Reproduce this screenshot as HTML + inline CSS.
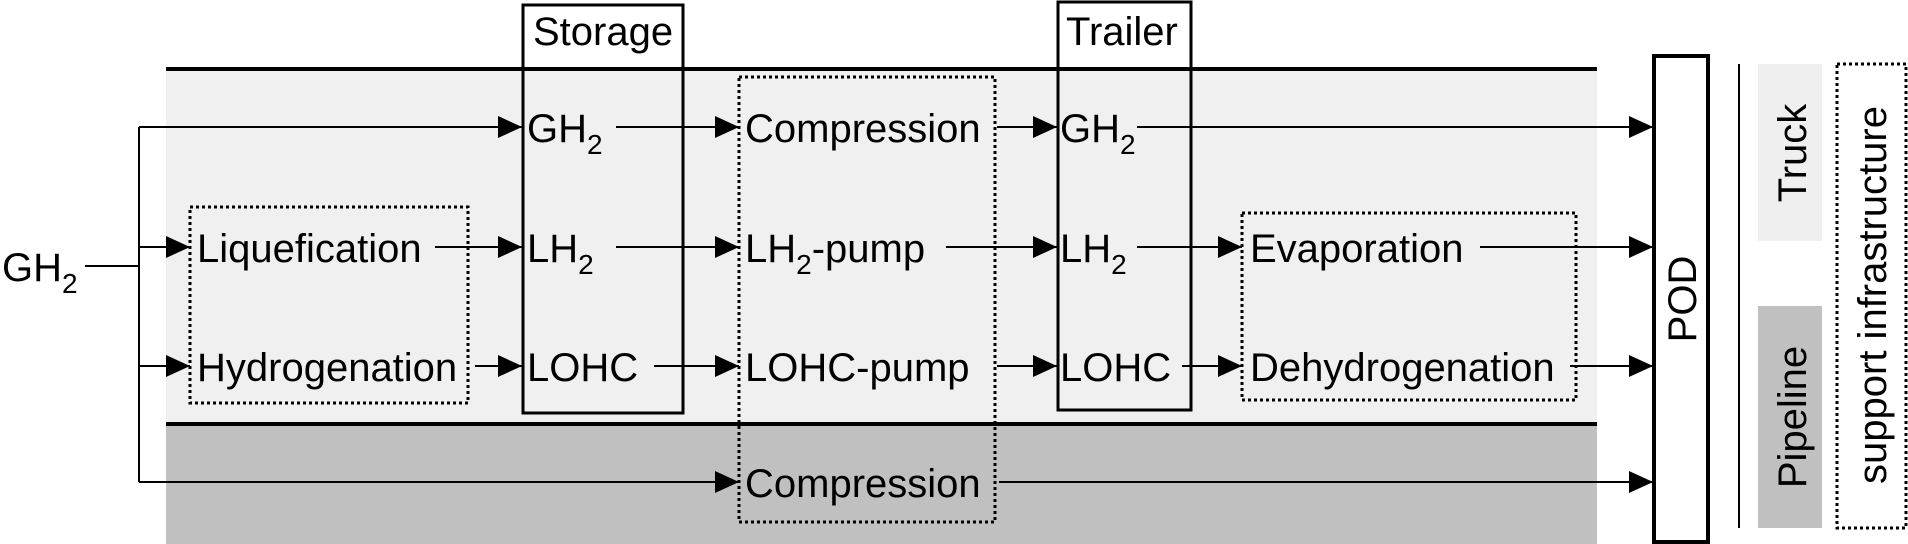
<!DOCTYPE html>
<html><head><meta charset="utf-8"><style>
html,body{margin:0;padding:0;background:#fff;}
svg{display:block;}
text{font-family:"Liberation Sans",Arial,sans-serif;font-size:40px;fill:#000;}
.s{font-size:28px;}
</style></head><body>
<svg width="1908" height="544" viewBox="0 0 1908 544" xmlns="http://www.w3.org/2000/svg">
<defs>
<marker id="a" markerWidth="24" markerHeight="22" refX="24" refY="11" orient="auto" markerUnits="userSpaceOnUse">
<polygon points="0,0 24,11 0,22" fill="#000"/></marker>
</defs>
<!-- bands -->
<rect x="166" y="69" width="1431" height="355" fill="#f0f0f0"/>
<rect x="166" y="424" width="1431" height="120" fill="#c0c0c0"/>
<line x1="166" y1="69" x2="1597" y2="69" stroke="#000" stroke-width="4"/>
<line x1="166" y1="424" x2="1597" y2="424" stroke="#000" stroke-width="4"/>

<!-- boxes -->
<rect x="523" y="5" width="160" height="408" fill="none" stroke="#000" stroke-width="3"/>
<rect x="1058" y="2" width="133" height="408" fill="none" stroke="#000" stroke-width="3"/>
<rect x="190" y="207" width="278" height="196" fill="none" stroke="#000" stroke-width="3" stroke-dasharray="3,3"/>
<rect x="739" y="77" width="256" height="445" fill="none" stroke="#000" stroke-width="3" stroke-dasharray="3,3"/>
<rect x="1242" y="213" width="334" height="187" fill="none" stroke="#000" stroke-width="3" stroke-dasharray="3,3"/>
<rect x="1654" y="56" width="54" height="486" fill="#fff" stroke="#000" stroke-width="4"/>
<line x1="1739" y1="64" x2="1739" y2="528" stroke="#000" stroke-width="2"/>
<rect x="1758" y="64" width="64" height="177" fill="#efefef"/>
<rect x="1758" y="306" width="64" height="222" fill="#c0c0c0"/>
<rect x="1837" y="64" width="69" height="464" fill="none" stroke="#000" stroke-width="3" stroke-dasharray="3,3"/>

<!-- connectors -->
<g stroke="#000" stroke-width="2" fill="none">
<line x1="85" y1="266" x2="139" y2="266"/>
<line x1="139" y1="127" x2="139" y2="482"/>
<line x1="139" y1="127" x2="522" y2="127" marker-end="url(#a)"/>
<line x1="139" y1="247" x2="190" y2="247" marker-end="url(#a)"/>
<line x1="139" y1="366" x2="190" y2="366" marker-end="url(#a)"/>
<line x1="139" y1="482" x2="739" y2="482" marker-end="url(#a)"/>
<line x1="435" y1="247" x2="522" y2="247" marker-end="url(#a)"/>
<line x1="475" y1="366" x2="522" y2="366" marker-end="url(#a)"/>
<line x1="616" y1="127" x2="739" y2="127" marker-end="url(#a)"/>
<line x1="616" y1="247" x2="739" y2="247" marker-end="url(#a)"/>
<line x1="654" y1="366" x2="739" y2="366" marker-end="url(#a)"/>
<line x1="997" y1="127" x2="1057" y2="127" marker-end="url(#a)"/>
<line x1="946" y1="247" x2="1057" y2="247" marker-end="url(#a)"/>
<line x1="997" y1="366" x2="1057" y2="366" marker-end="url(#a)"/>
<line x1="1137" y1="127" x2="1653" y2="127" marker-end="url(#a)"/>
<line x1="1137" y1="247" x2="1242" y2="247" marker-end="url(#a)"/>
<line x1="1182" y1="366" x2="1242" y2="366" marker-end="url(#a)"/>
<line x1="1480" y1="247" x2="1653" y2="247" marker-end="url(#a)"/>
<line x1="1570" y1="366" x2="1653" y2="366" marker-end="url(#a)"/>
<line x1="999" y1="482" x2="1653" y2="482" marker-end="url(#a)"/>
</g>

<!-- labels -->
<text x="2" y="281">GH<tspan class="s" dy="12">2</tspan></text>
<text x="533" y="45">Storage</text>
<text x="1066" y="45">Trailer</text>
<text x="197" y="262">Liquefication</text>
<text x="197" y="381">Hydrogenation</text>
<text x="527" y="142">GH<tspan class="s" dy="12">2</tspan></text>
<text x="527" y="262">LH<tspan class="s" dy="12">2</tspan></text>
<text x="527" y="381">LOHC</text>
<text x="745" y="142">Compression</text>
<text x="745" y="262">LH<tspan class="s" dy="12">2</tspan><tspan dy="-12">-pump</tspan></text>
<text x="745" y="381">LOHC-pump</text>
<text x="745" y="497">Compression</text>
<text x="1060" y="142">GH<tspan class="s" dy="12">2</tspan></text>
<text x="1060" y="262">LH<tspan class="s" dy="12">2</tspan></text>
<text x="1060" y="381">LOHC</text>
<text x="1250" y="262">Evaporation</text>
<text x="1250" y="381">Dehydrogenation</text>
<text transform="translate(1696,299) rotate(-90)" text-anchor="middle">POD</text>
<text transform="translate(1806,153) rotate(-90)" text-anchor="middle">Truck</text>
<text transform="translate(1806,417) rotate(-90)" text-anchor="middle">Pipeline</text>
<text transform="translate(1886,295) rotate(-90)" text-anchor="middle">support infrastructure</text>
</svg>
</body></html>
